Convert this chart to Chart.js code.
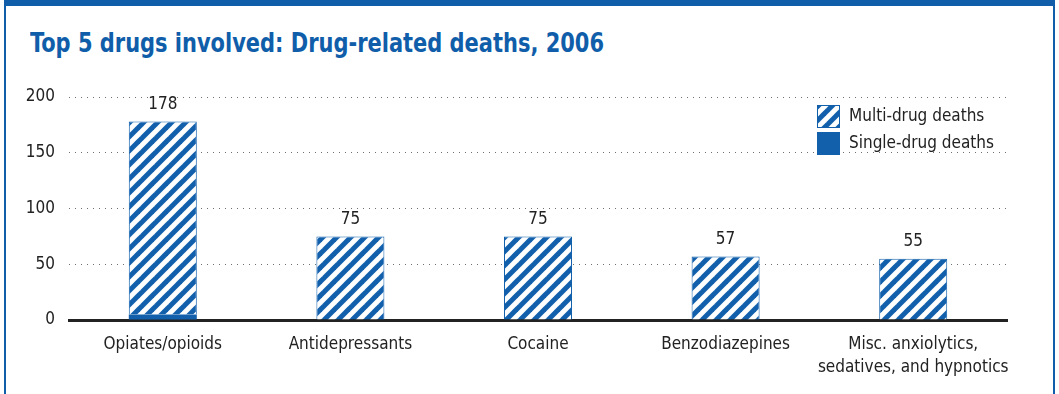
<!DOCTYPE html>
<html>
<head>
<meta charset="utf-8">
<script src="https://cdn.jsdelivr.net/npm/chart.js@4.4.1/dist/chart.umd.min.js"></script>
<style>
  html, body { margin: 0; padding: 0; background: #fff; }
  #wrap { position: relative; width: 1059px; height: 394px; overflow: hidden; }
  #frame { position: absolute; left: 4px; top: 0; width: 1051px; height: 394px;
           border-top: 6px solid #105eaa; border-left: 2px solid #105eaa; border-right: 2px solid #105eaa;
           box-sizing: border-box; }
  #title { position: absolute; left: 30px; top: 28px; margin: 0; white-space: nowrap;
           font: bold 26px "Liberation Sans Narrow", "DejaVu Sans Condensed", sans-serif;
           color: #105eaa; transform-origin: 0 0; line-height: 30px; }
  canvas { position: absolute; left: 0; top: 0; }
</style>
</head>
<body>
<div id="wrap">
  <div id="frame"></div>
  <h1 id="title">Top 5 drugs involved: Drug-related deaths, 2006</h1>
  <canvas id="myChart" width="1059" height="394"></canvas>
</div>
<script>
'use strict';

var drugs = ['Opiates/opioids', 'Antidepressants', 'Cocaine', 'Benzodiazepines',
             ['Misc. anxiolytics,', 'sedatives, and hypnotics']];
var singleDrug = [5, 0, 0, 0, 0];
var multiDrug = [173, 75, 75, 57, 55];
var yTicks = [0, 50, 100, 150, 200];

var blue = '#1260ac';
var fontName = '"Liberation Sans Narrow", "DejaVu Sans Condensed", sans-serif';

//fit title to its width in the picture
var title = document.getElementById('title');
var tw = title.getBoundingClientRect().width;
title.style.transform = 'scaleX(' + (574 / tw) + ')';

//striped fill for multi-drug deaths
function makeStripes() {
   var c = document.createElement('canvas');
   c.width = 14; c.height = 14;
   var g = c.getContext('2d');
   g.fillStyle = '#fff';
   g.fillRect(0, 0, 14, 14);
   g.strokeStyle = blue;
   g.lineWidth = 5;
   [[0, 14, 14, 0], [-7, 7, 7, -7], [7, 21, 21, 7]].forEach(function (l) {
      g.beginPath();
      g.moveTo(l[0], l[1]);
      g.lineTo(l[2], l[3]);
      g.stroke();
   });
   return g.createPattern(c, 'repeat');
}
var stripes = makeStripes();

//totals above each bar
var totalsPlugin = {
   id: 'totals',
   afterDatasetsDraw: function (chart) {
      var ctx = chart.ctx;
      var meta = chart.getDatasetMeta(1);
      ctx.save();
      ctx.font = '17px ' + fontName;
      ctx.fillStyle = '#222';
      ctx.textAlign = 'center';
      ctx.textBaseline = 'middle';
      meta.data.forEach(function (bar, i) {
         var total = singleDrug[i] + multiDrug[i];
         ctx.fillText(total, bar.x, bar.y - 17);
      });
      ctx.restore();
   }
};

//legend stacked inside the plot, top right
var legendPlugin = {
   id: 'boxLegend',
   afterDraw: function (chart) {
      var ctx = chart.ctx;
      var items = [chart.data.datasets[1], chart.data.datasets[0]];
      ctx.save();
      ctx.font = '17px ' + fontName;
      ctx.textBaseline = 'middle';
      items.forEach(function (ds, i) {
         var y = 105 + i * 27;
         ctx.fillStyle = ds.backgroundColor;
         ctx.fillRect(817, y, 23, 23);
         ctx.strokeStyle = blue;
         ctx.lineWidth = 1;
         ctx.strokeRect(817.5, y + 0.5, 22, 22);
         ctx.fillStyle = '#222';
         ctx.fillText(ds.label, 849, y + 12);
      });
      ctx.restore();
   }
};

var ctx = document.getElementById('myChart').getContext('2d');
var myChart = new Chart(ctx, {
   type: 'bar',
   data: {
      labels: drugs,
      datasets: [{
         label: 'Single-drug deaths',
         data: singleDrug,
         backgroundColor: blue,
         borderWidth: 0
      }, {
         label: 'Multi-drug deaths',
         data: multiDrug,
         backgroundColor: stripes,
         borderColor: blue,
         borderWidth: 1,
         borderSkipped: 'start'
      }]
   },
   options: {
      responsive: false,
      animation: false,
      layout: { padding: { top: 97, right: 52, bottom: 0, left: 0 } },
      datasets: { bar: { categoryPercentage: 1, barPercentage: 0.3625 } },
      plugins: { legend: { display: false }, tooltip: { enabled: false } },
      scales: {
         x: {
            stacked: true,
            grid: { display: false },
            border: { display: true, color: '#222', width: 3 },
            ticks: { color: '#222', padding: 6, maxRotation: 0, minRotation: 0, autoSkip: false,
                     font: { family: fontName, size: 17, lineHeight: 1.3 } },
            afterFit: function (scale) { scale.height = 74; }
         },
         y: {
            stacked: true,
            min: 0,
            max: 200,
            afterBuildTicks: function (scale) {
               scale.ticks = yTicks.map(function (v) { return { value: v }; });
            },
            border: { display: false, dash: [1, 5] },
            grid: {
               drawTicks: false,
               color: function (c) { return c.tick.value === 0 ? 'rgba(0,0,0,0)' : '#707070'; },
               lineWidth: 1
            },
            ticks: { color: '#222', padding: 14, font: { family: fontName, size: 17 } },
            afterFit: function (scale) { scale.width = 69; }
         }
      }
   },
   plugins: [totalsPlugin, legendPlugin]
});
</script>
</body>
</html>
